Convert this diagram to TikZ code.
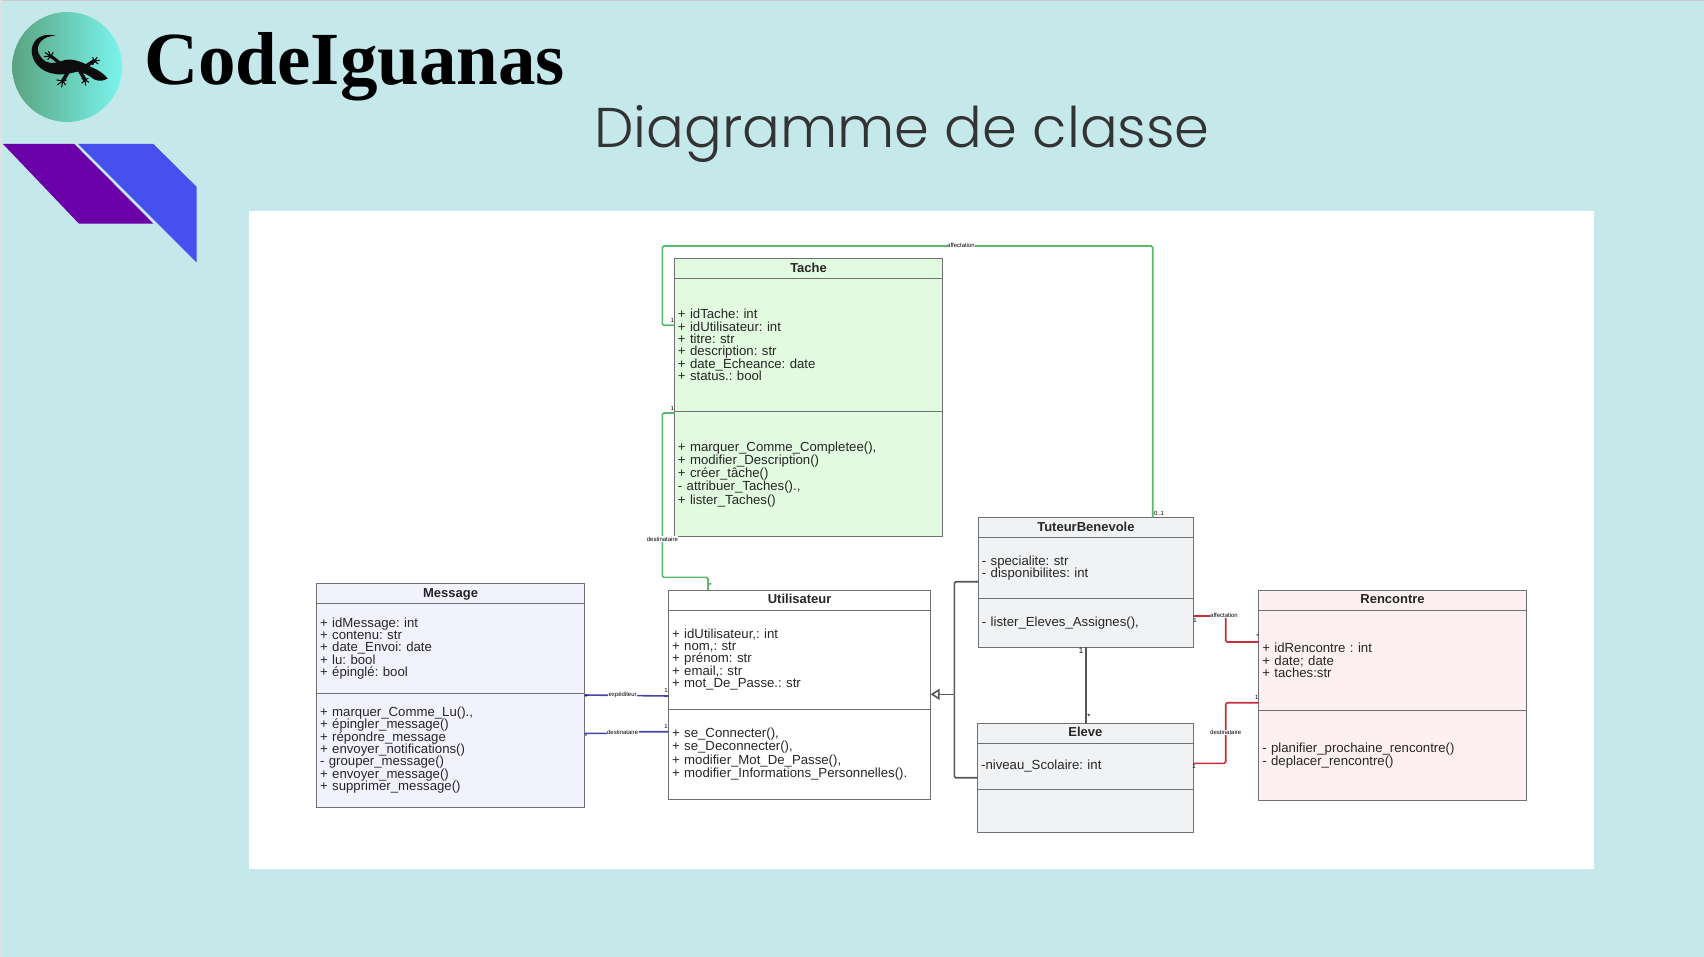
\documentclass[tikz,border=0pt]{standalone}
\usepackage{fontspec}
\setmainfont{Liberation Sans}
\newfontfamily\logofont{Liberation Serif}
\newfontfamily\titrefont{Poppins Light}
\usetikzlibrary{positioning,arrows.meta,shadings}
\frenchspacing
\normallineskiplimit=-6pt
\lineskiplimit=-6pt

\definecolor{fond}{HTML}{C5E8EB}
\definecolor{grisTrait}{HTML}{6E7072}
\definecolor{grisLien}{HTML}{555759}
\definecolor{vertLien}{HTML}{58B96C}
\definecolor{rougeLien}{HTML}{C6303C}
\definecolor{bleuLien}{HTML}{4444AA}
\definecolor{logoG}{HTML}{5AA37F}
\definecolor{logoD}{HTML}{7AF5EE}
\definecolor{violet}{HTML}{6A00A8}
\definecolor{bleuBande}{HTML}{4650EE}
\definecolor{fondTache}{HTML}{E2FAE0}
\definecolor{fondMessage}{HTML}{F2F2FE}
\definecolor{fondTuteur}{HTML}{F1F2F4}
\definecolor{fondRencontre}{HTML}{FEF0F0}

\tikzset{
    classe/.style={draw=grisTrait,line width=0.8pt,outer sep=0pt,inner xsep=3.5pt,inner ysep=0pt,text=black!85},
    tete/.style={classe,align=center,minimum height=20pt,text height=9.5pt,text depth=2pt,font=\fontsize{13}{14}\selectfont\bfseries},
    bloc/.style={classe,align=left,font=\fontsize{13.2}{12.3}\selectfont},
    blocLarge/.style={classe,align=left,font=\fontsize{13.2}{13.2}\selectfont},
    tache/.style={fill=fondTache,text width=261.3pt},
    message/.style={fill=fondMessage,text width=261pt},
    utilisateur/.style={fill=white,text width=255pt},
    tuteur/.style={fill=fondTuteur,text width=208pt},
    eleve/.style={fill=fondTuteur,text width=208.5pt},
    rencontre/.style={fill=fondRencontre,text width=260.5pt},
    lien/.style={line width=1.6pt,rounded corners=1.5pt},
    etiquette/.style={fill=white,inner sep=0.5pt,font=\fontsize{6}{6}\selectfont},
    mult/.style={inner sep=0pt,font=\fontsize{6}{6}\selectfont}
}

\begin{document}
\begin{tikzpicture}[x=1pt,y=-1pt]
    \useasboundingbox (0,0) rectangle (1704,957);
    % fond
    \fill[fond] (0,0) rectangle (1704,957);
    \fill[black!20] (0,0) rectangle (1704,1.2);
    \fill[black!12] (0,0) rectangle (2,957);
    \fill[white] (249,211) rectangle (1594.3,869);

    % logo
    \shade[left color=logoG,right color=logoD] (67.2,67) circle [radius=55];
    \begin{scope}[shift={(20,25)},x=0.3333pt,y=-0.3333pt]
        \fill[black!95] (107,32) .. controls (70,22) and (38,40) .. (35,75)
            .. controls (34,110) and (62,140) .. (100,146)
            .. controls (125,152) and (150,145) .. (172,140)
            .. controls (190,142) and (205,150) .. (222,163)
            .. controls (238,170) and (252,168) .. (263,160)
            .. controls (250,145) and (235,135) .. (215,127)
            .. controls (190,112) and (160,100) .. (135,105)
            .. controls (115,112) and (95,118) .. (78,110)
            .. controls (55,95) and (45,70) .. (62,50)
            .. controls (75,36) and (90,33) .. (107,32) -- cycle;
        \draw[black!95,line width=3.2pt] (122,116) -- (92,93);
        \draw[black!95,line width=3.6pt] (145,140) -- (128,168);
        \draw[black!95,line width=3.6pt] (200,122) -- (222,108);
        \draw[black!95,line width=3.6pt] (178,135) -- (195,165);
        \draw[black!95,line width=1.1pt] (85,78) -- (92,93) -- (75,83) (72,95) -- (92,93) -- (83,104) (92,93) -- (100,82);
        \draw[black!95,line width=1.1pt] (110,165) -- (128,168) -- (112,180) (125,187) -- (128,168) -- (137,180) (128,168) -- (140,165);
        \draw[black!95,line width=1.1pt] (218,97) -- (222,108) -- (232,97) (240,106) -- (222,108) -- (235,117) (222,108) -- (218,120);
        \draw[black!95,line width=1.1pt] (185,160) -- (195,165) -- (185,175) (197,182) -- (195,165) -- (207,172) (195,165) -- (205,160);
    \end{scope}
    \node[anchor=base west,inner sep=0pt,font=\logofont\fontsize{75}{80}\selectfont\bfseries] (logoTexte) at (144,85) {CodeIguanas};
    \node[anchor=base west,inner sep=0pt,text=black!80,font=\titrefont\fontsize{56}{60}\selectfont] (titre) at (594,148) {Diagramme de classe};

    % bandeaux
    \fill[violet] (3,144) -- (74.3,144) -- (153.4,223.7) -- (79,223.7) -- cycle;
    \fill[bleuBande] (78,144) -- (153.4,144) -- (196.5,186.7) -- (196.5,262.3) -- cycle;

    % classes
    \node[tete,tache,anchor=north west] (tacheTete) at (674.4,258.3) {Tache};
    \node[bloc,tache,minimum height=133.4pt,below=0pt of tacheTete] (tacheAttr) {+ idTache: int\\+ idUtilisateur: int\\+ titre: str\\+ description: str\\+ date\_Echeance: date\\+ status.: bool};
    \node[blocLarge,tache,minimum height=125pt,below=0pt of tacheAttr] (tacheMeth) {+ marquer\_Comme\_Completee(),\\+ modifier\_Description()\\+ créer\_tâche()\\- attribuer\_Taches().,\\+ lister\_Taches()};

    \node[tete,message,anchor=north west] (messageTete) at (316.6,583.3) {Message};
    \node[bloc,message,minimum height=90pt,below=0pt of messageTete] (messageAttr) {+ idMessage: int\\+ contenu: str\\+ date\_Envoi: date\\+ lu: bool\\+ épinglé: bool};
    \node[bloc,message,minimum height=113.7pt,below=0pt of messageAttr] (messageMeth) {+ marquer\_Comme\_Lu().,\\+ épingler\_message()\\+ répondre\_message\\+ envoyer\_notifications()\\- grouper\_message()\\+ envoyer\_message()\\+ supprimer\_message()};

    \node[tete,utilisateur,anchor=north west] (utilTete) at (668.6,590) {Utilisateur};
    \node[bloc,utilisateur,minimum height=99pt,below=0pt of utilTete] (utilAttr) {+ idUtilisateur,: int\\+ nom,: str\\+ prénom: str\\+ email,: str\\+ mot\_De\_Passe.: str};
    \node[blocLarge,utilisateur,minimum height=90pt,below=0pt of utilAttr] (utilMeth) {+ se\_Connecter(),\\+ se\_Deconnecter(),\\+ modifier\_Mot\_De\_Passe(),\\+ modifier\_Informations\_Personnelles().};

    \node[tete,tuteur,anchor=north west] (tuteurTete) at (978.4,517.3) {TuteurBenevole};
    \node[bloc,tuteur,minimum height=61pt,below=0pt of tuteurTete] (tuteurAttr) {- specialite: str\\- disponibilites: int};
    \node[bloc,tuteur,minimum height=48.7pt,below=0pt of tuteurAttr] (tuteurMeth) {- lister\_Eleves\_Assignes(),};

    \node[tete,eleve,anchor=north west] (eleveTete) at (977.6,723) {Eleve};
    \node[bloc,eleve,minimum height=46pt,below=0pt of eleveTete] (eleveAttr) {-niveau\_Scolaire: int};
    \node[bloc,eleve,minimum height=43.4pt,below=0pt of eleveAttr] (eleveMeth) {};

    \node[tete,rencontre,anchor=north west] (rencontreTete) at (1258.8,590) {Rencontre};
    \node[bloc,rencontre,minimum height=100.7pt,below=0pt of rencontreTete] (rencontreAttr) {+ idRencontre : int\\+ date; date\\+ taches:str};
    \node[blocLarge,rencontre,minimum height=89.3pt,below=0pt of rencontreAttr] (rencontreMeth) {- planifier\_prochaine\_rencontre()\\- deplacer\_rencontre()};

    % liens Tache
    \draw[lien,vertLien] (tuteurTete.north -| 1152.7,0) |- (662.4,246) |- (tacheAttr.west |- 0,325.3);
    \draw[lien,vertLien] (tacheAttr.south west) ++(0,1.3) -| (662.4,577.3) -| (utilTete.north -| 708,0);
    \node[etiquette] (lblAffectation) at (961,245.7) {affectation};
    \node[etiquette] (lblDestTache) at (662.4,539) {destinataire};

    % liens Message
    \draw[lien,bleuLien] (messageMeth.north east) ++(0,1.7) -- (utilAttr.south west |- 0,696);
    \draw[lien,bleuLien] (messageMeth.east |- 0,733.3) -- (622,733.3) -- (622,731.7) -- (utilMeth.west |- 0,731.7);
    \node[etiquette] (lblExpediteur) at (622.6,694.7) {expéditeur};
    \node[etiquette] (lblDestMessage) at (622.6,732.7) {destinataire};

    % heritage
    \coordinate (jonction) at (954.3,694.3);
    \draw[lien,grisLien] (tuteurAttr.west |- 0,581.7) -| (jonction);
    \draw[lien,grisLien] (eleveAttr.west |- 0,777.7) -| (jonction);
    \draw[lien,grisLien,-{Triangle[open,length=9pt,width=11pt]}] (jonction) -- (utilMeth.east |- jonction);

    % tuteur - eleve
    \draw[lien,grisLien,line width=2pt] (tuteurMeth.south -| 1085.7,0) -- (eleveTete.north -| 1085.7,0);

    % liens Rencontre
    \draw[lien,rougeLien] (tuteurMeth.east |- 0,616) -| (1225.7,642) -- (rencontreAttr.west |- 0,642);
    \draw[lien,rougeLien] (eleveAttr.east |- 0,763.3) -| (1225.7,702.7) -- (rencontreAttr.west |- 0,702.7);
    \node[etiquette] (lblAffRencontre) at (1224,615) {affectation};
    \node[etiquette] (lblDestRencontre) at (1225.7,732.3) {destinataire};

    % multiplicites
    \node[mult] (m01) at (1159,513.3) {0..1};
    \node[mult] (m02) at (672.4,320) {1};
    \node[mult] (m03) at (672.4,408.3) {1};
    \node[mult] (m04) at (710.4,585) {*};
    \node[mult] (m05) at (666,690.3) {1};
    \node[mult] (m06) at (666,726.7) {1};
    \node[mult] (m07) at (586,697.3) {*};
    \node[mult] (m08) at (586,736) {*};
    \node[mult,font=\fontsize{8}{8}\selectfont] (m09) at (1081,650.7) {1};
    \node[mult,font=\fontsize{8}{8}\selectfont] (m10) at (1089,717) {*};
    \node[mult] (m11) at (1195,620) {1};
    \node[mult] (m12) at (1257.5,636) {*};
    \node[mult] (m13) at (1194,766.7) {1};
    \node[mult] (m14) at (1256.7,697.7) {1};
\end{tikzpicture}
\end{document}
